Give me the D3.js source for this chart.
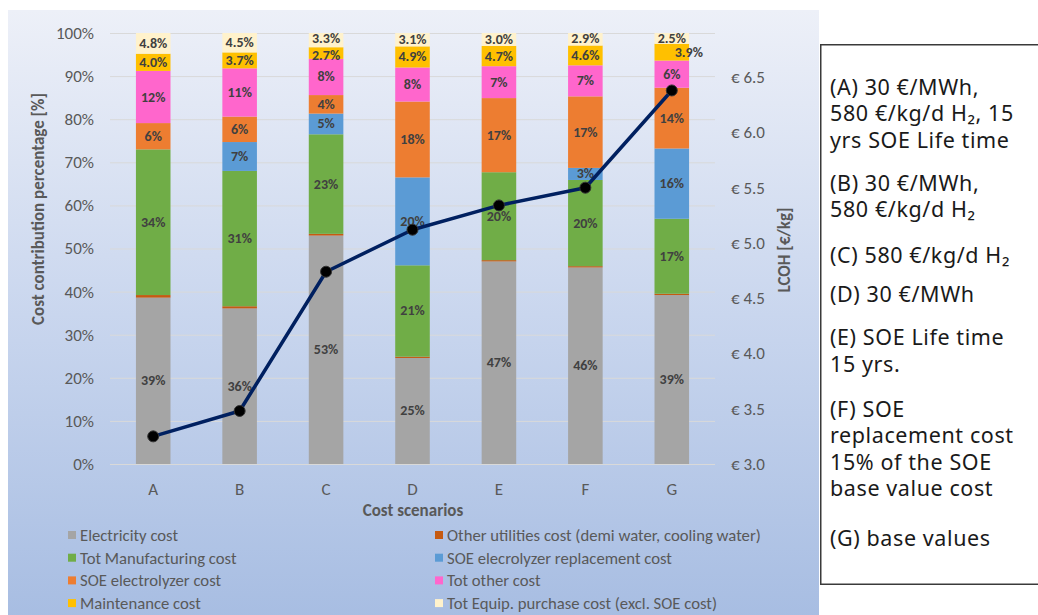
<!DOCTYPE html>
<html>
<head>
<meta charset="utf-8">
<script src="https://cdn.jsdelivr.net/npm/d3@7/dist/d3.min.js"></script>
<style>
  html, body { margin: 0; padding: 0; background: #ffffff; }
  svg { display: block; }
  .calib { font-family: "Carlito", "Liberation Sans Narrow", "DejaVu Sans Condensed", "Liberation Sans", sans-serif; }
</style>
</head>
<body>
<svg id="chart" width="1038" height="615"></svg>
<script>
// Scenario categories
const categories = ["A", "B", "C", "D", "E", "F", "G"];

// Cost contribution shares per scenario [%], stacked bottom to top
const electricity     = [38.6, 36.1, 53.0, 24.6, 47.0, 45.6, 39.2];
const otherUtilities  = [0.6, 0.5, 0.4, 0.3, 0.3, 0.3, 0.3];
const manufacturing   = [33.8, 31.4, 23.1, 21.2, 20.4, 20.0, 17.4];
const soeReplacement  = [0, 6.7, 4.8, 20.4, 0, 2.8, 16.3];
const soeElectrolyzer = [6.1, 5.9, 4.3, 17.6, 17.2, 16.6, 14.1];
const otherCost       = [12.1, 11.2, 8.4, 7.9, 7.4, 7.2, 6.3];
const maintenance     = [4.0, 3.7, 2.7, 4.9, 4.7, 4.6, 3.9];
const equipment       = [4.8, 4.5, 3.3, 3.1, 3.0, 2.9, 2.5];

// Levelized cost of hydrogen per scenario [€/kg]
const lcoh = [3.25, 3.48, 4.74, 5.12, 5.34, 5.50, 6.38];

// Axis ticks
const pctTicks = [0, 10, 20, 30, 40, 50, 60, 70, 80, 90, 100];
const lcohTicks = [3.0, 3.5, 4.0, 4.5, 5.0, 5.5, 6.0, 6.5];

// Scenario descriptions shown in the side box
const notes = [
  ["(A) 30 €/MWh,", "580 €/kg/d H₂, 15", "yrs SOE Life time"],
  ["(B) 30 €/MWh,", "580 €/kg/d H₂"],
  ["(C) 580 €/kg/d H₂"],
  ["(D) 30 €/MWh"],
  ["(E) SOE Life time", "15 yrs."],
  ["(F) SOE", "replacement cost", "15% of the SOE", "base value cost"],
  ["(G) base values"]
];

const series = [
  { key: "elec",  name: "Electricity cost", values: electricity, color: "#a5a5a5", decimals: 0 },
  { key: "util",  name: "Other utilities cost (demi water, cooling water)", values: otherUtilities, color: "#c55a11", decimals: 0 },
  { key: "manu",  name: "Tot Manufacturing cost", values: manufacturing, color: "#70ad47", decimals: 0 },
  { key: "repl",  name: "SOE elecrolyzer replacement cost", values: soeReplacement, color: "#5b9bd5", decimals: 0 },
  { key: "soe",   name: "SOE electrolyzer cost", values: soeElectrolyzer, color: "#ed7d31", decimals: 0 },
  { key: "other", name: "Tot other cost", values: otherCost, color: "#ff66cc", decimals: 0 },
  { key: "maint", name: "Maintenance cost", values: maintenance, color: "#ffc000", decimals: 1 },
  { key: "equip", name: "Tot Equip. purchase cost  (excl. SOE cost)", values: equipment, color: "#fff2cc", decimals: 1 }
];

const svg = d3.select("#chart");
const textGray = "#595959";

// Background panel with vertical gradient
const defs = svg.append("defs");
const grad = defs.append("linearGradient").attr("id", "bg").attr("x1", 0).attr("y1", 0).attr("x2", 0).attr("y2", 1);
grad.append("stop").attr("offset", "0%").attr("stop-color", "#edf0f8");
grad.append("stop").attr("offset", "50%").attr("stop-color", "#c9d6ee");
grad.append("stop").attr("offset", "100%").attr("stop-color", "#a7bde2");
svg.append("rect").attr("x", 8).attr("y", 10).attr("width", 811).attr("height", 610).attr("fill", "url(#bg)");

// Scales
const x = d3.scaleBand().domain(categories).range([110, 715]).paddingInner(0.6).paddingOuter(0.3);
const y = d3.scaleLinear().domain([0, 100]).range([464, 33]);
const yR = d3.scaleLinear().domain([3.0, 6.9]).range([464, 33]);

// Gridlines
svg.append("g").selectAll("line").data(pctTicks).join("line")
  .attr("x1", 110).attr("x2", 715)
  .attr("y1", d => y(d) + 0.5).attr("y2", d => y(d) + 0.5)
  .attr("stroke", "#d9d9d9").attr("stroke-width", 1);

// Left axis
const leftAxis = svg.append("g").attr("class", "calib").attr("transform", "translate(94,0)")
  .call(d3.axisLeft(y).tickValues(pctTicks).tickFormat(d => d + "%").tickSize(0).tickPadding(0));
leftAxis.select(".domain").remove();
leftAxis.selectAll("text").attr("fill", textGray).style("font-size", "17px");

// Right axis
const rightAxis = svg.append("g").attr("class", "calib").attr("transform", "translate(731,0)")
  .call(d3.axisRight(yR).tickValues(lcohTicks).tickFormat(d => "€ " + d.toFixed(1)).tickSize(0).tickPadding(0));
rightAxis.select(".domain").remove();
rightAxis.selectAll("text").attr("fill", textGray).style("font-size", "17px");

// Bottom axis
const bottomAxis = svg.append("g").attr("class", "calib").attr("transform", "translate(0,490)")
  .call(d3.axisBottom(x).tickSize(0).tickPadding(0));
bottomAxis.select(".domain").remove();
bottomAxis.selectAll("text").attr("fill", textGray).attr("dy", "0.32em").style("font-size", "17px");

// Stacked bars
const rows = categories.map((c, i) => {
  const r = { cat: c };
  series.forEach(s => { r[s.key] = s.values[i]; });
  return r;
});
const stack = d3.stack().keys(series.map(s => s.key))(rows);

const barG = svg.append("g");
stack.forEach((layer, li) => {
  const s = series[li];
  barG.append("g").selectAll("rect").data(layer).join("rect")
    .attr("x", d => x(d.data.cat))
    .attr("width", x.bandwidth())
    .attr("y", d => y(d[1]))
    .attr("height", d => Math.max(0, y(d[0]) - y(d[1])))
    .attr("fill", s.color);
});

// Data labels: collect per bar, then spread apart any that sit too close
const labelSize = 14;
const minGap = 17;
const labelsByBar = categories.map(() => []);
stack.forEach((layer, li) => {
  const s = series[li];
  layer.forEach((d, i) => {
    const v = s.values[i];
    if (v < 1) return;
    let cx = x(d.data.cat) + x.bandwidth() / 2;
    // the small maintenance share of the base case sits beside its bar
    const beside = s.key === "maint" && d.data.cat === "G";
    if (beside) cx += 17;
    labelsByBar[i].push({ x: cx, y: (y(d[0]) + y(d[1])) / 2, text: v.toFixed(s.decimals) + "%", beside });
  });
});
labelsByBar.forEach(list => {
  const inBar = list.filter(l => !l.beside);
  for (let k = 1; k < inBar.length; k++) {
    const lower = inBar[k - 1], upper = inBar[k];
    const gap = lower.y - upper.y;
    if (gap < minGap) {
      const shift = (minGap - gap) / 2;
      lower.y += shift;
      upper.y -= shift;
    }
  }
});
const labelG = svg.append("g").attr("class", "calib");
labelsByBar.flat().forEach(l => {
  labelG.append("text")
    .attr("x", l.x)
    .attr("y", l.y)
    .attr("text-anchor", "middle")
    .attr("dominant-baseline", "central")
    .attr("fill", "#404040")
    .style("font-size", labelSize + "px")
    .style("font-weight", "bold")
    .text(l.text);
});

// LCOH line with markers
const pts = categories.map((c, i) => [x(c) + x.bandwidth() / 2, yR(lcoh[i])]);
svg.append("path")
  .attr("d", d3.line()(pts))
  .attr("fill", "none")
  .attr("stroke", "#002060")
  .attr("stroke-width", 3.5)
  .attr("stroke-linejoin", "round");
svg.append("g").selectAll("circle").data(pts).join("circle")
  .attr("cx", d => d[0]).attr("cy", d => d[1]).attr("r", 5.5)
  .attr("fill", "#000000").attr("stroke", "#333333").attr("stroke-width", 1);

// Axis titles
svg.append("text").attr("class", "calib")
  .attr("transform", "translate(38,209) rotate(-90)")
  .attr("text-anchor", "middle").attr("dominant-baseline", "central")
  .attr("fill", textGray).style("font-size", "17px").style("font-weight", "bold")
  .text("Cost contribution percentage [%]");
svg.append("text").attr("class", "calib")
  .attr("transform", "translate(784,250) rotate(-90)")
  .attr("text-anchor", "middle").attr("dominant-baseline", "central")
  .attr("fill", textGray).style("font-size", "17px").style("font-weight", "bold")
  .text("LCOH [€/kg]");
svg.append("text").attr("class", "calib")
  .attr("x", 413).attr("y", 510)
  .attr("text-anchor", "middle").attr("dominant-baseline", "central")
  .attr("fill", textGray).style("font-size", "17px").style("font-weight", "bold")
  .text("Cost scenarios");

// Legend: two columns, filled row by row
const legend = svg.append("g").attr("class", "calib");
series.forEach((s, i) => {
  const col = i % 2, row = Math.floor(i / 2);
  const lx = col === 0 ? 68 : 435;
  const ly = 535 + row * 22.7;
  legend.append("rect").attr("x", lx).attr("y", ly - 4).attr("width", 8).attr("height", 8).attr("fill", s.color);
  legend.append("text").attr("x", lx + 12).attr("y", ly)
    .attr("dominant-baseline", "central")
    .attr("fill", textGray).style("font-size", "16.7px")
    .text(s.name);
});

// Side box with scenario descriptions
svg.append("rect").attr("x", 820.75).attr("y", 44.75).attr("width", 240).attr("height", 539.5)
  .attr("fill", "#ffffff").attr("stroke", "#3a3a3a").attr("stroke-width", 1.5);
const noteG = svg.append("g")
  .style("font-family", "'Noto Sans', Lato, sans-serif")
  .style("font-size", "21.5px")
  .style("letter-spacing", "0.6px")
  .attr("fill", "#1a1a1a");
const lineStep = 26.5;
const parSpace = [0, 43, 46, 39, 43, 45, 50]; // space before each paragraph
let ny = 86;
notes.forEach((par, p) => {
  ny += parSpace[p];
  par.forEach((line, j) => {
    noteG.append("text").attr("x", 830).attr("y", ny).attr("dominant-baseline", "central").text(line);
    if (j < par.length - 1) ny += lineStep;
  });
});
</script>
</body>
</html>
